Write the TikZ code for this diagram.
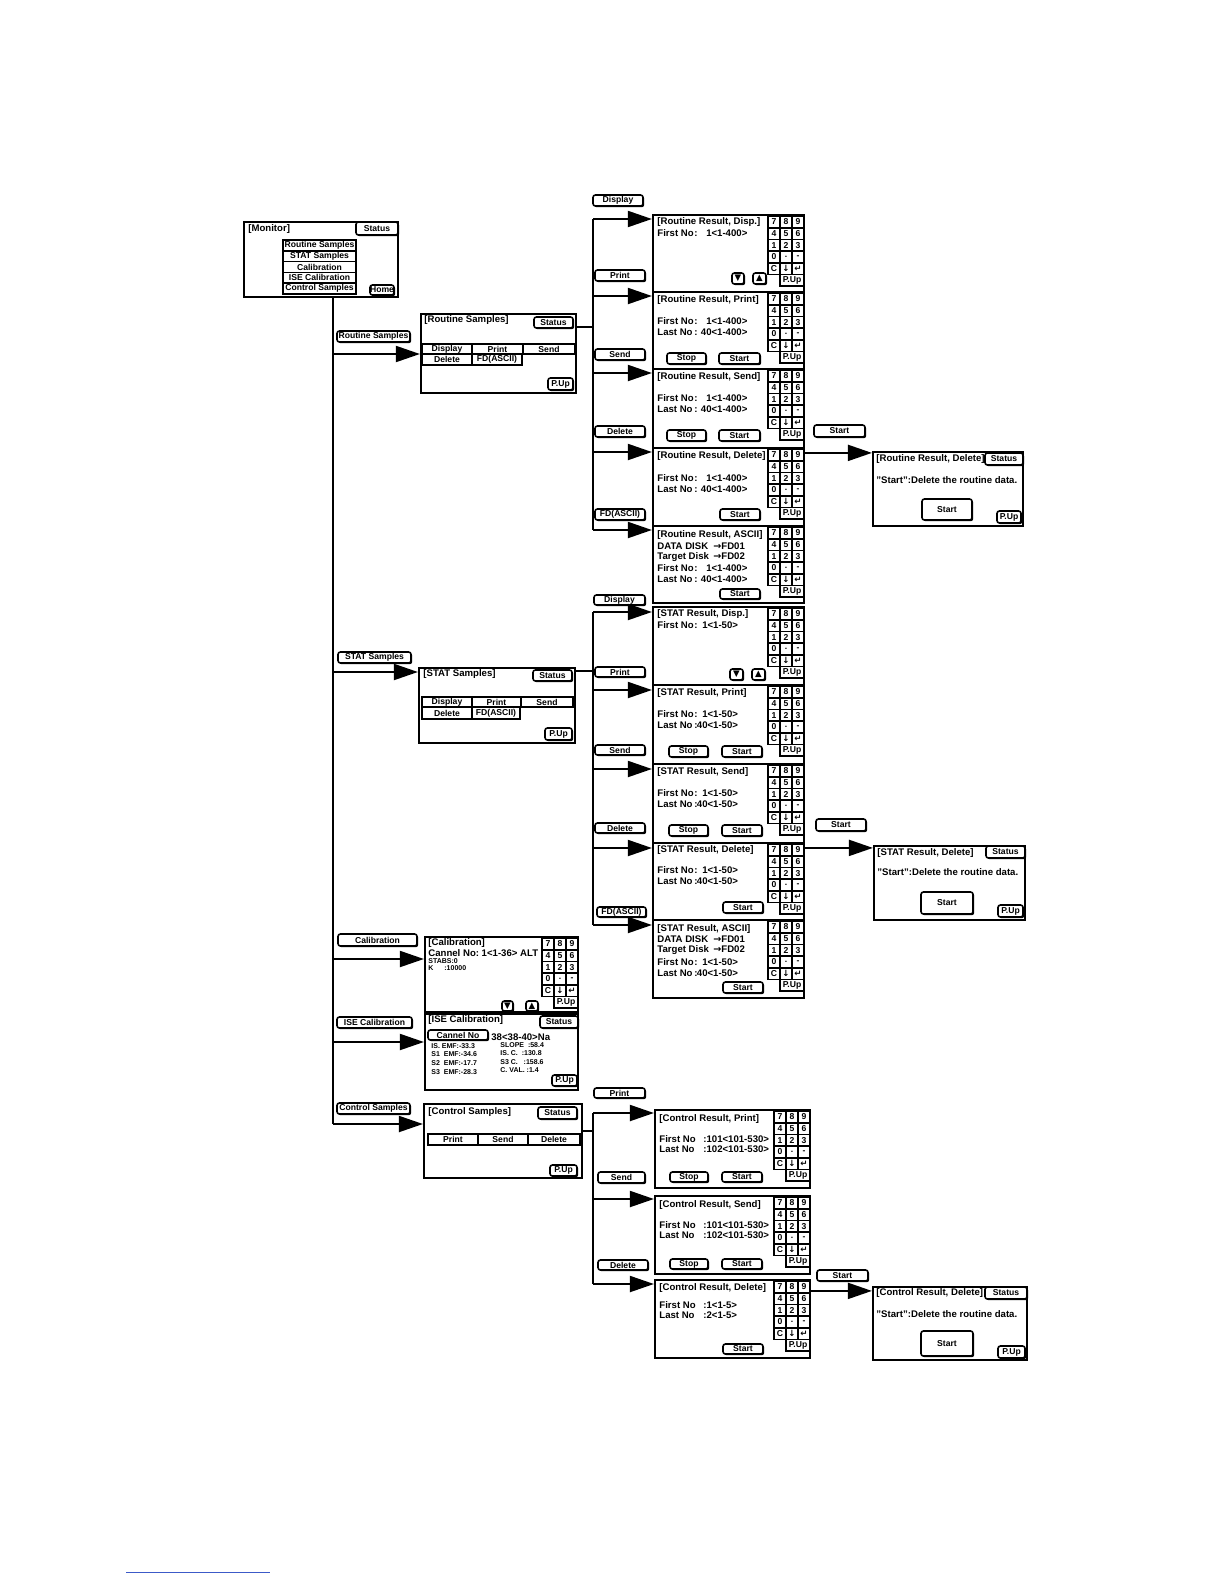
\documentclass[tikz,border=0pt]{standalone}
\usepackage{fontspec}
\setmainfont{Liberation Sans}
\newfontfamily\symf{DejaVu Sans}
\usepackage{tikz}
\usetikzlibrary{arrows.meta,fit,shadows}
\definecolor{rulecol}{HTML}{3C5AC8}
\newcommand\tf{\fontsize{4.8}{5.6}\selectfont\bfseries}
\newcommand\btf{\fontsize{4.3}{5}\selectfont\bfseries}
\newcommand\stf{\fontsize{3.5}{4}\selectfont\bfseries}
\newcommand\kdown{{\symf ↓}}
\newcommand\kenter{{\symf ↵}}
\newcommand\kto{{\symf →}}
\newcommand\kup{{\symf ▲}}
\newcommand\kdn{{\symf ▼}}
\newcommand\lab[2][18.5pt]{\makebox[#1][l]{#2}}
\newcommand\rnum[2][7pt]{\makebox[#1][r]{#2}}
\tikzset{
  scr/.style={draw, line width=1.1pt, inner sep=0pt},
  key/.style={draw, line width=0.8pt, fill=white, inner sep=0pt},
  btn/.style={key, rounded corners=1.2pt,
    drop shadow={shadow xshift=0.6pt, shadow yshift=-0.6pt, fill=black, opacity=1}},
  btext/.style={label={[font=\btf, inner sep=0pt]center:#1}},
  txt/.style={anchor=west, inner sep=0pt, font=\tf},
  smalltxt/.style={txt, font=\stf},
  wire/.style={line width=1pt},
  arr/.style={wire, -{Triangle[length=12pt, width=8pt]}},
  footrule/.style={draw=rulecol, line width=0.5pt}}
% keypad: name, left x, top y
\newcommand\keypad[3]{%
  \foreach \rw/\ka/\kb/\kc in {0/7/8/9,1/4/5/6,2/1/2/3,3/0/./-,4/C/\kdown/\kenter}
    \foreach \cl/\kt in {0/\ka,1/\kb,2/\kc}
      \node[key, btext=\kt, fit={({#2+12*\cl},{#3+11.7*\rw}) ({#2+12*\cl+12},{#3+11.7*\rw+11.7})}] (#1-\rw\cl) {};
  \node[key, btext=P.Up, fit={({#2+12},{#3+58.5}) ({#2+36},{#3+70.2})}] (#1-pu) {};}

\begin{document}
\begin{tikzpicture}[x=0.5pt, y=-0.5pt]
\useasboundingbox (0,0) rectangle (1224,1584);

% monitor
\node[scr, fit={(244,222) (398,297)}] (mon) {};
\node[txt] (mon-t) at (248,229) {[Monitor]};
\node[btn, btext=Status, fit={(356,222) (398,235)}] (mon-st) {};
\foreach \t [count=\i] in {Routine Samples,STAT Samples,Calibration,ISE Calibration,Control Samples}
  \node[key, btext=\t, fit={(283,{229.2+10.8*\i}) (356,{240+10.8*\i})}] (mon-m\i) {};
\node[btn, btext=Home, fit={(370,285) (394,295)}] (mon-hm) {};

% main branch labels
\node[btn, btext=Routine Samples, fit={(337,331) (410,342)}] (lb-rs) {};
\node[btn, btext=STAT Samples, fit={(338,652) (411,663)}] (lb-ss) {};
\node[btn, btext=Calibration, fit={(338,934) (417,946)}] (lb-ca) {};
\node[btn, btext=ISE Calibration, fit={(337,1017) (412,1028)}] (lb-is) {};
\node[btn, btext=Control Samples, fit={(337,1103) (410,1114)}] (lb-cs) {};

% routine samples
\node[scr, fit={(421,314) (576,393)}] (rsam) {};
\node[txt] (rsam-t) at (424,320) {[Routine Samples]};
\node[btn, btext=Status, fit={(534,317) (573,328)}] (rsam-st) {};
\node[key, btext=Display, fit={(422,344) (472,354)}] (rsam-dp) {};
\node[key, btext=Print, fit={(472,344) (523,354)}] (rsam-pr) {};
\node[key, btext=Send, fit={(523,344) (575,354)}] (rsam-sd) {};
\node[key, btext=Delete, fit={(422,354) (472,365)}] (rsam-dl) {};
\node[key, btext=FD(ASCII), fit={(472,354) (522,365)}] (rsam-fd) {};
\node[btn, btext=P.Up, fit={(548,378) (573,390)}] (rsam-pu) {};

% routine results
\node[scr, fit={(653,215) (804,292)}] (rdisp) {};
\node[txt] (rdisp-t) at (657,222) {[Routine Result, Disp.]};
\node[txt] (rdisp-a) at (657,233) {\lab{First No}:\rnum{1}<1-400>};
\node[btn, btext=\kdn, fit={(732,273) (744,284)}] (rdisp-dn) {};
\node[btn, btext=\kup, fit={(753,273) (766,284)}] (rdisp-up) {};
\keypad{rdisp-k}{768}{216}

\node[scr, fit={(653,292) (804,369)}] (rprt) {};
\node[txt] (rprt-t) at (657,300) {[Routine Result, Print]};
\node[txt] (rprt-a) at (657,321) {\lab{First No}:\rnum{1}<1-400>};
\node[txt] (rprt-b) at (657,332) {\lab{Last No}:\rnum{40}<1-400>};
\node[btn, btext=Stop, fit={(667,353) (706,364)}] (rprt-sp) {};
\node[btn, btext=Start, fit={(719,353) (760,364)}] (rprt-go) {};
\keypad{rprt-k}{768}{293}

\node[scr, fit={(653,369) (804,448)}] (rsnd) {};
\node[txt] (rsnd-t) at (657,377) {[Routine Result, Send]};
\node[txt] (rsnd-a) at (657,398) {\lab{First No}:\rnum{1}<1-400>};
\node[txt] (rsnd-b) at (657,409) {\lab{Last No}:\rnum{40}<1-400>};
\node[btn, btext=Stop, fit={(667,430) (706,441)}] (rsnd-sp) {};
\node[btn, btext=Start, fit={(719,430) (760,441)}] (rsnd-go) {};
\keypad{rsnd-k}{768}{370}

\node[scr, fit={(653,448) (804,526)}] (rdel) {};
\node[txt] (rdel-t) at (657,456) {[Routine Result, Delete]};
\node[txt] (rdel-a) at (657,478) {\lab{First No}:\rnum{1}<1-400>};
\node[txt] (rdel-b) at (657,489) {\lab{Last No}:\rnum{40}<1-400>};
\node[btn, btext=Start, fit={(720,509) (760,520)}] (rdel-go) {};
\keypad{rdel-k}{768}{449}

\node[scr, fit={(653,526) (804,603)}] (rasc) {};
\node[txt] (rasc-t) at (657,535) {[Routine Result, ASCII]};
\node[txt] (rasc-a) at (657,546) {\lab[28pt]{DATA DISK}\kto FD01};
\node[txt] (rasc-b) at (657,557) {\lab[28pt]{Target Disk}\kto FD02};
\node[txt] (rasc-c) at (657,568) {\lab{First No}:\rnum{1}<1-400>};
\node[txt] (rasc-d) at (657,579) {\lab{Last No}:\rnum{40}<1-400>};
\node[btn, btext=Start, fit={(720,589) (760,599)}] (rasc-go) {};
\keypad{rasc-k}{768}{527}

\node[btn, btext=Display, fit={(593,195) (643,206)}] (lb-rdisp) {};
\node[btn, btext=Print, fit={(595,270) (645,281)}] (lb-rprt) {};
\node[btn, btext=Send, fit={(595,349) (645,360)}] (lb-rsnd) {};
\node[btn, btext=Delete, fit={(595,426) (645,437)}] (lb-rdel) {};
\node[btn, btext=FD(ASCII), fit={(595,509) (645,520)}] (lb-rasc) {};

% routine delete confirm
\node[scr, fit={(873,452) (1023,526)}] (rcf) {};
\node[txt] (rcf-t) at (876,459) {[Routine Result, Delete]};
\node[btn, btext=Status, fit={(985,453) (1023,465)}] (rcf-st) {};
\node[txt] (rcf-m) at (876,480) {"Start":Delete the routine data.};
\node[btn, btext=Start, fit={(922,499) (972,520)}] (rcf-go) {};
\node[btn, btext=P.Up, fit={(997,511) (1021,523)}] (rcf-pu) {};
\node[btn, btext=Start, fit={(814,425) (865,437)}] (lb-rcf) {};

% stat samples
\node[scr, fit={(419,668) (575,743)}] (ssam) {};
\node[txt] (ssam-t) at (423,674) {[STAT Samples]};
\node[btn, btext=Status, fit={(533,670) (572,681)}] (ssam-st) {};
\node[key, btext=Display, fit={(422,697) (472,707)}] (ssam-dp) {};
\node[key, btext=Print, fit={(472,697) (521,707)}] (ssam-pr) {};
\node[key, btext=Send, fit={(521,697) (573,707)}] (ssam-sd) {};
\node[key, btext=Delete, fit={(422,707) (472,719)}] (ssam-dl) {};
\node[key, btext=FD(ASCII), fit={(472,707) (520,719)}] (ssam-fd) {};
\node[btn, btext=P.Up, fit={(545,728) (572,740)}] (ssam-pu) {};

% stat results
\node[scr, fit={(653,607) (804,685)}] (sdisp) {};
\node[txt] (sdisp-t) at (657,614) {[STAT Result, Disp.]};
\node[txt] (sdisp-a) at (657,625) {\lab{First No}:\rnum[5pt]{1}<1-50>};
\node[btn, btext=\kdn, fit={(730,669) (743,680)}] (sdisp-dn) {};
\node[btn, btext=\kup, fit={(752,669) (765,680)}] (sdisp-up) {};
\keypad{sdisp-k}{768}{608}

\node[scr, fit={(653,685) (804,764)}] (sprt) {};
\node[txt] (sprt-t) at (657,693) {[STAT Result, Print]};
\node[txt] (sprt-a) at (657,714) {\lab{First No}:\rnum[5pt]{1}<1-50>};
\node[txt] (sprt-b) at (657,725) {\lab{Last No}:\rnum[5pt]{40}<1-50>};
\node[btn, btext=Stop, fit={(669,746) (708,757)}] (sprt-sp) {};
\node[btn, btext=Start, fit={(722,746) (762,757)}] (sprt-go) {};
\keypad{sprt-k}{768}{686}

\node[scr, fit={(653,764) (804,843)}] (ssnd) {};
\node[txt] (ssnd-t) at (657,772) {[STAT Result, Send]};
\node[txt] (ssnd-a) at (657,793) {\lab{First No}:\rnum[5pt]{1}<1-50>};
\node[txt] (ssnd-b) at (657,804) {\lab{Last No}:\rnum[5pt]{40}<1-50>};
\node[btn, btext=Stop, fit={(669,825) (708,836)}] (ssnd-sp) {};
\node[btn, btext=Start, fit={(722,825) (762,836)}] (ssnd-go) {};
\keypad{ssnd-k}{768}{765}

\node[scr, fit={(653,843) (804,920)}] (sdel) {};
\node[txt] (sdel-t) at (657,850) {[STAT Result, Delete]};
\node[txt] (sdel-a) at (657,870) {\lab{First No}:\rnum[5pt]{1}<1-50>};
\node[txt] (sdel-b) at (657,881) {\lab{Last No}:\rnum[5pt]{40}<1-50>};
\node[btn, btext=Start, fit={(723,902) (763,913)}] (sdel-go) {};
\keypad{sdel-k}{768}{844}

\node[scr, fit={(653,920) (804,998)}] (sasc) {};
\node[txt] (sasc-t) at (657,929) {[STAT Result, ASCII]};
\node[txt] (sasc-a) at (657,939) {\lab[28pt]{DATA DISK}\kto FD01};
\node[txt] (sasc-b) at (657,950) {\lab[28pt]{Target Disk}\kto FD02};
\node[txt] (sasc-c) at (657,962) {\lab{First No}:\rnum[5pt]{1}<1-50>};
\node[txt] (sasc-d) at (657,973) {\lab{Last No}:\rnum[5pt]{40}<1-50>};
\node[btn, btext=Start, fit={(723,982) (763,993)}] (sasc-go) {};
\keypad{sasc-k}{768}{921}

\node[btn, btext=Display, fit={(594,595) (645,605)}] (lb-sdisp) {};
\node[btn, btext=Print, fit={(595,667) (645,677)}] (lb-sprt) {};
\node[btn, btext=Send, fit={(595,745) (645,755)}] (lb-ssnd) {};
\node[btn, btext=Delete, fit={(595,823) (645,833)}] (lb-sdel) {};
\node[btn, btext=FD(ASCII), fit={(597,907) (646,917)}] (lb-sasc) {};

% stat delete confirm
\node[scr, fit={(874,846) (1025,920)}] (scf) {};
\node[txt] (scf-t) at (877,853) {[STAT Result, Delete]};
\node[btn, btext=Status, fit={(986,846) (1025,858)}] (scf-st) {};
\node[txt] (scf-m) at (877,872) {"Start":Delete the routine data.};
\node[btn, btext=Start, fit={(921,892) (973,914)}] (scf-go) {};
\node[btn, btext=P.Up, fit={(998,905) (1023,917)}] (scf-pu) {};
\node[btn, btext=Start, fit={(816,819) (866,831)}] (lb-scf) {};

% calibration
\node[scr, fit={(425,937) (578,1012)}] (cal) {};
\node[txt] (cal-t) at (428,943) {[Calibration]};
\node[txt] (cal-a) at (428,953) {Cannel No:\ 1<1-36> ALT};
\node[smalltxt] (cal-b) at (428,961) {STABS:0};
\node[smalltxt] (cal-c) at (428,968) {\lab[8pt]{K}:10000};
\node[btn, btext=\kdn, fit={(502,1001) (513,1011)}] (cal-dn) {};
\node[btn, btext=\kup, fit={(526,1001) (538,1011)}] (cal-up) {};
\keypad{cal-k}{542}{938}

% ise calibration
\node[scr, fit={(425,1014) (578,1090)}] (ise) {};
\node[txt] (ise-t) at (428,1020) {[ISE Calibration]};
\node[btn, btext=Status, fit={(540,1016) (578,1028)}] (ise-st) {};
\node[btn, btext=Cannel No, fit={(428,1030) (488,1040)}] (ise-cn) {};
\node[txt] (ise-n) at (491,1037) {38<38-40>Na};
\foreach \t [count=\i] in {IS. EMF:-33.3,S1\ \ EMF:-34.6,S2\ \ EMF:-17.7,S3\ \ EMF:-28.3}
  \node[smalltxt] (ise-l\i) at (431,{1037+8.7*\i}) {\t};
\foreach \t [count=\i] in {SLOPE\ \ :58.4,IS. C.\ \ :130.8,S3 C.\ \ \ :158.6,C. VAL. :1.4}
  \node[smalltxt] (ise-r\i) at (500,{1036.5+8.4*\i}) {\t};
\node[btn, btext=P.Up, fit={(552,1075) (577,1086)}] (ise-pu) {};

% control samples
\node[scr, fit={(424,1104) (582,1178)}] (csam) {};
\node[txt] (csam-t) at (428,1112) {[Control Samples]};
\node[btn, btext=Status, fit={(538,1107) (577,1119)}] (csam-st) {};
\node[key, btext=Print, fit={(428,1134) (478,1145)}] (csam-pr) {};
\node[key, btext=Send, fit={(478,1134) (528,1145)}] (csam-sd) {};
\node[key, btext=Delete, fit={(528,1134) (580,1145)}] (csam-dl) {};
\node[btn, btext=P.Up, fit={(550,1165) (577,1176)}] (csam-pu) {};

% control results
\node[scr, fit={(655,1110) (810,1188)}] (cprt) {};
\node[txt] (cprt-t) at (659,1119) {[Control Result, Print]};
\node[txt] (cprt-a) at (659,1139) {\lab[22pt]{First No}:101<101-530>};
\node[txt] (cprt-b) at (659,1149) {\lab[22pt]{Last No}:102<101-530>};
\node[btn, btext=Stop, fit={(670,1172) (708,1182)}] (cprt-sp) {};
\node[btn, btext=Start, fit={(722,1172) (762,1182)}] (cprt-go) {};
\keypad{cprt-k}{774}{1111}

\node[scr, fit={(655,1196) (810,1274)}] (csnd) {};
\node[txt] (csnd-t) at (659,1205) {[Control Result, Send]};
\node[txt] (csnd-a) at (659,1225) {\lab[22pt]{First No}:101<101-530>};
\node[txt] (csnd-b) at (659,1235) {\lab[22pt]{Last No}:102<101-530>};
\node[btn, btext=Stop, fit={(670,1259) (708,1269)}] (csnd-sp) {};
\node[btn, btext=Start, fit={(722,1259) (762,1269)}] (csnd-go) {};
\keypad{csnd-k}{774}{1197}

\node[scr, fit={(655,1280) (810,1358)}] (cdel) {};
\node[txt] (cdel-t) at (659,1288) {[Control Result, Delete]};
\node[txt] (cdel-a) at (659,1305) {\lab[22pt]{First No}:1<1-5>};
\node[txt] (cdel-b) at (659,1315) {\lab[22pt]{Last No}:2<1-5>};
\node[btn, btext=Start, fit={(723,1344) (763,1354)}] (cdel-go) {};
\keypad{cdel-k}{774}{1281}

\node[btn, btext=Print, fit={(594,1088) (645,1098)}] (lb-cprt) {};
\node[btn, btext=Send, fit={(598,1172) (645,1183)}] (lb-csnd) {};
\node[btn, btext=Delete, fit={(598,1260) (648,1270)}] (lb-cdel) {};

% control delete confirm
\node[scr, fit={(873,1287) (1027,1360)}] (ccf) {};
\node[txt] (ccf-t) at (876,1293) {[Control Result, Delete]};
\node[btn, btext=Status, fit={(985,1287) (1027,1299)}] (ccf-st) {};
\node[txt] (ccf-m) at (876,1314) {"Start":Delete the routine data.};
\node[btn, btext=Start, fit={(921,1331) (973,1356)}] (ccf-go) {};
\node[btn, btext=P.Up, fit={(998,1346) (1025,1358)}] (ccf-pu) {};
\node[btn, btext=Start, fit={(817,1270) (868,1281)}] (lb-ccf) {};

% main bus
\foreach \y [count=\i] in {354,672,959,1042,1124}
  \coordinate (mb\i) at (333,\y);
\draw[wire] (mon.south -| mb1) -- (mb5);
\foreach \i/\s in {1/rsam,2/ssam,3/cal,4/ise,5/csam}
  \draw[arr] (mb\i) -- (mb\i -| \s.west);

% routine bus
\foreach \y [count=\i] in {219,296,373,452,530}
  \coordinate (rb\i) at (593,\y);
\coordinate (rj) at (593,327);
\draw[wire] (rsam.east |- rj) -- (rj);
\draw[wire] (rb1) -- (rb5);
\foreach \i/\s in {1/rdisp,2/rprt,3/rsnd,4/rdel,5/rasc}
  \draw[arr] (rb\i) -- (rb\i -| \s.west);
\draw[arr] (rdel.north east) ++(0,6) coordinate (rc0) -- (rc0 -| rcf.west);

% stat bus
\foreach \y [count=\i] in {612,690,769,848,925}
  \coordinate (sb\i) at (593,\y);
\coordinate (sj) at (593,671);
\draw[wire] (ssam.east |- sj) -- (sj);
\draw[wire] (sb1) -- (sb5);
\foreach \i/\s in {1/sdisp,2/sprt,3/ssnd,4/sdel,5/sasc}
  \draw[arr] (sb\i) -- (sb\i -| \s.west);
\draw[arr] (sdel.north east) ++(0,6) coordinate (sc0) -- (sc0 -| scf.west);

% control bus
\foreach \y [count=\i] in {1113,1199,1284}
  \coordinate (cb\i) at (593,\y);
\coordinate (cj) at (593,1131);
\draw[wire] (csam.east |- cj) -- (cj);
\draw[wire] (cb1) -- (cb3);
\foreach \i/\s in {1/cprt,2/csnd,3/cdel}
  \draw[arr] (cb\i) -- (cb\i -| \s.west);
\draw[arr] (cdel.north east) ++(0,12) coordinate (cc0) -- (cc0 -| ccf.west);

\draw[footrule] (126,1572) -- (270,1572);
\end{tikzpicture}
\end{document}
